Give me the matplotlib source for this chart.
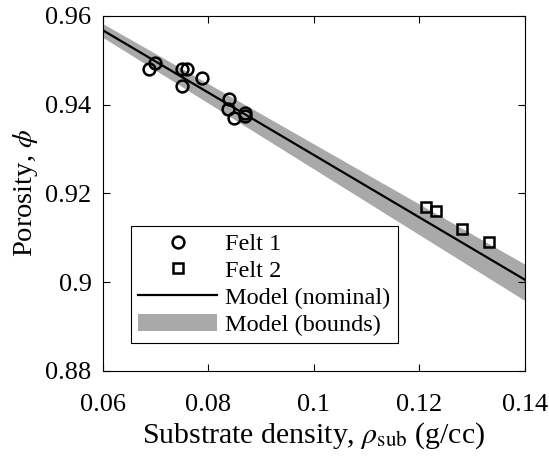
import matplotlib
matplotlib.use("Agg")
import matplotlib.pyplot as plt
import numpy as np
from matplotlib.ticker import FuncFormatter

plt.rcParams['font.family'] = ['Liberation Serif', 'DejaVu Serif']
plt.rcParams['mathtext.fontset'] = 'stix'

# ------------- data
felt1_rho = [0.0688, 0.0700, 0.0750, 0.0759, 0.0750, 0.0789, 0.0840, 0.0838, 0.0848, 0.0869, 0.0870]
felt1_phi = [0.9480, 0.9493, 0.9481, 0.9481, 0.9441, 0.9461, 0.9412, 0.9391, 0.9371, 0.9382, 0.9374]

felt2_rho = [0.1212, 0.1231, 0.1281, 0.1332]
felt2_phi = [0.9170, 0.9160, 0.9120, 0.9090]

model_rho = [0.06, 0.14]
model_nom = [0.9568, 0.9005]
model_up = [0.9583, 0.9040]
model_lo = [0.9552, 0.8958]

xticks = [0.06, 0.08, 0.1, 0.12, 0.14]
yticks = [0.88, 0.9, 0.92, 0.94, 0.96]

# ------------- figure
fig = plt.figure(figsize=(5.49, 4.58), dpi=100)
ax = fig.add_axes([102.7/549, 1-370.7/458, (525-102.7)/549, (370.7-16)/458])

ax.fill_between(model_rho, model_lo, model_up, color='#a9a9a9', lw=0, label='Model (bounds)')
ax.plot(model_rho, model_nom, color='k', lw=1.6, label='Model (nominal)')
ax.plot(felt1_rho, felt1_phi, 'o', mfc='none', mec='k', mew=1.8, ms=8.5, label='Felt 1')
ax.plot(felt2_rho, felt2_phi, 's', mfc='none', mec='k', mew=1.8, ms=7.5, label='Felt 2')

ax.set_xlim(0.06, 0.14)
ax.set_ylim(0.88, 0.96)
ax.set_xticks(xticks)
ax.set_yticks(yticks)
fmt = FuncFormatter(lambda v, p: '%g' % round(v, 4))
ax.xaxis.set_major_formatter(fmt)
ax.yaxis.set_major_formatter(fmt)
ax.tick_params(direction='in', top=True, right=True, length=5, width=0.8, labelsize=19)
ax.tick_params(axis='x', pad=17)
ax.tick_params(axis='y', pad=8)
for s in ax.spines.values():
    s.set_linewidth(0.8)

ax.set_xlabel(r'Substrate density, $\rho_{\rm sub}$ (g/cc)', fontsize=21.5, labelpad=3)
ax.set_ylabel(r'Porosity, $\phi$', fontsize=20.5, labelpad=4)

h, l = ax.get_legend_handles_labels()
order = [2, 3, 1, 0]
leg = ax.legend([h[i] for i in order], [l[i] for i in order], loc='lower left',
                bbox_to_anchor=(0.067, 0.078), fontsize=17.5, handlelength=3.25,
                handletextpad=0.33, labelspacing=0.2, borderpad=0.3,
                borderaxespad=0, fancybox=False, edgecolor='k', framealpha=1)
leg.get_frame().set_linewidth(0.8)

fig.savefig('out.png', dpi=100)
